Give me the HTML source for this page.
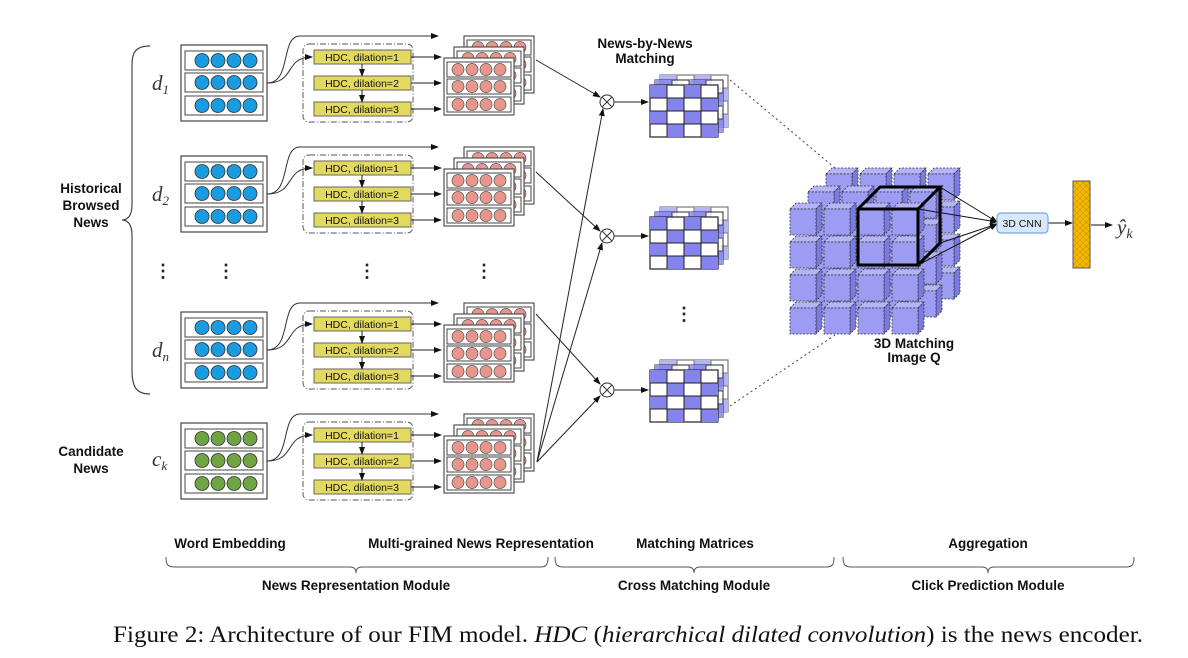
<!DOCTYPE html>
<html><head><meta charset="utf-8"><style>
html,body{margin:0;padding:0;background:#fff;}
svg{display:block;}
.b{font-family:"Liberation Sans",sans-serif;font-weight:bold;font-size:13.5px;fill:#111;}
.h{font-family:"Liberation Sans",sans-serif;font-size:10.5px;fill:#111;}
.m{font-family:"Liberation Serif",serif;font-style:italic;font-size:21px;fill:#333;}
</style></head><body>
<svg width="1188" height="658" viewBox="0 0 1188 658" xmlns="http://www.w3.org/2000/svg">
<defs>
<marker id="ar" markerWidth="8" markerHeight="8" refX="7" refY="4" orient="auto" markerUnits="userSpaceOnUse"><path d="M0,1 L8,4 L0,7 Z" fill="#111"/></marker>
<g id="embB">
<rect x="0" y="0" width="86" height="76" fill="#fff" stroke="#444" stroke-width="1.2"/>
<rect x="4" y="6" width="78" height="19" fill="#fff" stroke="#444"/>
<rect x="4" y="28" width="78" height="19" fill="#fff" stroke="#444"/>
<rect x="4" y="51" width="78" height="19" fill="#fff" stroke="#444"/>
<g fill="#1b9be0" stroke="#333" stroke-width="0.8">
<circle cx="21" cy="15.5" r="7"/><circle cx="37" cy="15.5" r="7"/><circle cx="53" cy="15.5" r="7"/><circle cx="69" cy="15.5" r="7"/>
<circle cx="21" cy="37.5" r="7"/><circle cx="37" cy="37.5" r="7"/><circle cx="53" cy="37.5" r="7"/><circle cx="69" cy="37.5" r="7"/>
<circle cx="21" cy="60.5" r="7"/><circle cx="37" cy="60.5" r="7"/><circle cx="53" cy="60.5" r="7"/><circle cx="69" cy="60.5" r="7"/>
</g></g>
<g id="embG">
<rect x="0" y="0" width="86" height="76" fill="#fff" stroke="#444" stroke-width="1.2"/>
<rect x="4" y="6" width="78" height="19" fill="#fff" stroke="#444"/>
<rect x="4" y="28" width="78" height="19" fill="#fff" stroke="#444"/>
<rect x="4" y="51" width="78" height="19" fill="#fff" stroke="#444"/>
<g fill="#6fa444" stroke="#333" stroke-width="0.8">
<circle cx="21" cy="15.5" r="7"/><circle cx="37" cy="15.5" r="7"/><circle cx="53" cy="15.5" r="7"/><circle cx="69" cy="15.5" r="7"/>
<circle cx="21" cy="37.5" r="7"/><circle cx="37" cy="37.5" r="7"/><circle cx="53" cy="37.5" r="7"/><circle cx="69" cy="37.5" r="7"/>
<circle cx="21" cy="60.5" r="7"/><circle cx="37" cy="60.5" r="7"/><circle cx="53" cy="60.5" r="7"/><circle cx="69" cy="60.5" r="7"/>
</g></g>
<g id="card">
<rect x="0" y="0" width="70" height="57" fill="#fff" stroke="#444" stroke-width="1.1"/>
<rect x="3" y="4" width="64" height="15" fill="#fff" stroke="#444"/>
<rect x="3" y="21" width="64" height="15" fill="#fff" stroke="#444"/>
<rect x="3" y="39" width="64" height="15" fill="#fff" stroke="#444"/>
<g fill="#e8968c" stroke="#555" stroke-width="0.7">
<circle cx="14" cy="11.5" r="6"/><circle cx="28" cy="11.5" r="6"/><circle cx="42" cy="11.5" r="6"/><circle cx="56" cy="11.5" r="6"/>
<circle cx="14" cy="28.5" r="6"/><circle cx="28" cy="28.5" r="6"/><circle cx="42" cy="28.5" r="6"/><circle cx="56" cy="28.5" r="6"/>
<circle cx="14" cy="46.5" r="6"/><circle cx="28" cy="46.5" r="6"/><circle cx="42" cy="46.5" r="6"/><circle cx="56" cy="46.5" r="6"/>
</g></g>
<g id="grpS">
<path d="M267,83 C292,83 280,36 300,36 L438,36" fill="none" stroke="#333" stroke-width="1" marker-end="url(#ar)"/>
<path d="M267,83 C296,83 284,57 312,57" fill="none" stroke="#333" stroke-width="1" marker-end="url(#ar)"/>
<rect x="303" y="44" width="110" height="78" rx="6" fill="none" stroke="#555" stroke-width="1" stroke-dasharray="6,2,1,2"/>
<g fill="#e2d95e" stroke="#666" stroke-width="1">
<rect x="314" y="50" width="97" height="14"/><rect x="314" y="76" width="97" height="14"/><rect x="314" y="102" width="97" height="14"/>
</g>
<g stroke="#222" stroke-width="1" marker-end="url(#ar)">
<line x1="362" y1="64" x2="362" y2="76"/><line x1="362" y1="90" x2="362" y2="102"/>
<line x1="411" y1="57" x2="441" y2="57"/><line x1="411" y1="83" x2="441" y2="83"/><line x1="411" y1="109" x2="441" y2="109"/>
</g>
<use href="#card" x="464" y="36"/><use href="#card" x="454" y="47"/><use href="#card" x="444" y="58"/>
</g>
<g id="mat">
<rect x="0" y="0" width="68" height="52" fill="#fff" stroke="#222" stroke-width="1.2"/>
<g fill="#8484ec">
<rect x="0" y="0" width="17" height="13"/><rect x="34" y="0" width="17" height="13"/>
<rect x="17" y="13" width="17" height="13"/><rect x="51" y="13" width="17" height="13"/>
<rect x="0" y="26" width="17" height="13"/><rect x="34" y="26" width="17" height="13"/>
<rect x="17" y="39" width="17" height="13"/><rect x="51" y="39" width="17" height="13"/>
</g>
<g stroke="#222" stroke-width="1"><line x1="17" y1="0" x2="17" y2="52"/><line x1="34" y1="0" x2="34" y2="52"/><line x1="51" y1="0" x2="51" y2="52"/>
<line x1="0" y1="13" x2="68" y2="13"/><line x1="0" y1="26" x2="68" y2="26"/><line x1="0" y1="39" x2="68" y2="39"/></g>
</g>
<g id="mats"><use href="#mat" x="10" y="-10" opacity="0.6"/><use href="#mat" x="5" y="-5" opacity="0.8"/><use href="#mat" x="0" y="0"/></g>
<g id="cube" stroke="#333" stroke-width="0.8" stroke-dasharray="2,1.5">
<path d="M0,6 L6,0 L32,0 L26,6 Z" fill="#b4b4f6"/>
<path d="M26,6 L32,0 L32,26 L26,32 Z" fill="#7a7ae0"/>
<rect x="0" y="6" width="26" height="26" fill="#9c9cf2"/>
</g>
<g id="row"><use href="#cube" x="0"/><use href="#cube" x="34"/><use href="#cube" x="68"/><use href="#cube" x="102"/></g>
<g id="layer"><use href="#row" y="0"/><use href="#row" y="33"/><use href="#row" y="66"/><use href="#row" y="99"/></g>
</defs>

<path d="M150,46 C132,46 132,56 132,70 L132,205 C132,215 128,220 122,220 C128,220 132,225 132,235 L132,370 C132,385 135,394 150,394" fill="none" stroke="#444" stroke-width="1.2"/>
<text class="b" x="91" y="193" text-anchor="middle">Historical</text>
<text class="b" x="91" y="210" text-anchor="middle">Browsed</text>
<text class="b" x="91" y="227" text-anchor="middle">News</text>
<text class="b" x="91" y="456" text-anchor="middle">Candidate</text>
<text class="b" x="91" y="473" text-anchor="middle">News</text>

<text class="m" x="152" y="90">d<tspan font-size="13" dy="4">1</tspan></text>
<text class="m" x="152" y="201">d<tspan font-size="13" dy="4">2</tspan></text>
<text class="m" x="152" y="357">d<tspan font-size="13" dy="4">n</tspan></text>
<text class="m" x="152" y="466">c<tspan font-size="13" dy="4">k</tspan></text>

<use href="#embB" x="181" y="45"/><use href="#grpS" y="0"/>
<use href="#embB" x="181" y="156"/><use href="#grpS" y="111"/>
<use href="#embB" x="181" y="312"/><use href="#grpS" y="267"/>
<use href="#embG" x="181" y="423"/><use href="#grpS" y="378"/>
<g class="h" text-anchor="middle">
<text x="362" y="61">HDC, dilation=1</text><text x="362" y="87">HDC, dilation=2</text><text x="362" y="113">HDC, dilation=3</text>
<text x="362" y="172">HDC, dilation=1</text><text x="362" y="198">HDC, dilation=2</text><text x="362" y="224">HDC, dilation=3</text>
<text x="362" y="328">HDC, dilation=1</text><text x="362" y="354">HDC, dilation=2</text><text x="362" y="380">HDC, dilation=3</text>
<text x="362" y="439">HDC, dilation=1</text><text x="362" y="465">HDC, dilation=2</text><text x="362" y="491">HDC, dilation=3</text>
</g>
<g font-family="Liberation Sans,sans-serif" font-weight="bold" font-size="18" fill="#222" text-anchor="middle">
<text x="163" y="277">⋮</text><text x="226" y="277">⋮</text><text x="367" y="277">⋮</text><text x="484" y="277">⋮</text><text x="684" y="320">⋮</text>
</g>

<g stroke="#222" stroke-width="1" fill="none" marker-end="url(#ar)">
<line x1="536" y1="60" x2="600" y2="97"/>
<line x1="536" y1="172" x2="600" y2="231"/>
<line x1="536" y1="314" x2="600" y2="384"/>
<line x1="537" y1="462" x2="603" y2="109"/>
<line x1="537" y1="462" x2="602" y2="243"/>
<line x1="537" y1="462" x2="600" y2="396"/>
<line x1="614" y1="102" x2="648" y2="102"/>
<line x1="614" y1="236" x2="648" y2="236"/>
<line x1="614" y1="390" x2="648" y2="390"/>
</g>
<g fill="#fff" stroke="#333" stroke-width="1">
<circle cx="607" cy="102" r="7"/><circle cx="607" cy="236" r="7"/><circle cx="607" cy="390" r="7"/>
</g>
<g stroke="#333" stroke-width="1">
<path d="M602,97 L612,107 M612,97 L602,107"/><path d="M602,231 L612,241 M612,231 L602,241"/><path d="M602,385 L612,395 M612,385 L602,395"/>
</g>
<text class="b" x="645" y="48" text-anchor="middle" font-size="12.5">News-by-News</text>
<text class="b" x="645" y="63" text-anchor="middle" font-size="12.5">Matching</text>

<use href="#mats" x="650" y="85"/>
<use href="#mats" x="650" y="217"/>
<use href="#mats" x="650" y="370"/>

<g stroke="#444" stroke-width="1" stroke-dasharray="2,3"><line x1="730" y1="80" x2="835" y2="168"/><line x1="730" y1="406" x2="835" y2="335"/></g>

<use href="#layer" x="826" y="168"/>
<use href="#layer" x="808" y="186"/>
<use href="#layer" x="790" y="203"/>
<g fill="none" stroke="#000" stroke-width="3">
<rect x="858" y="209" width="60" height="56"/>
<path d="M858,209 L880,187 L940,187 L918,209 M940,187 L940,243 L918,265"/>
</g>
<g stroke="#111" stroke-width="1" marker-end="url(#ar)">
<line x1="940" y1="187" x2="997" y2="222"/><line x1="918" y1="209" x2="997" y2="222"/>
<line x1="940" y1="243" x2="997" y2="224"/><line x1="918" y1="265" x2="997" y2="224"/>
<line x1="1048" y1="223" x2="1072" y2="223"/><line x1="1091" y1="225" x2="1112" y2="225"/>
</g>
<text class="b" x="914" y="348" text-anchor="middle" font-size="12.5">3D Matching</text>
<text class="b" x="914" y="362" text-anchor="middle" font-size="12.5">Image Q</text>
<rect x="997" y="213" width="51" height="20" rx="4" fill="#d8e8fb" stroke="#7aa6d8" stroke-width="1.2"/>
<text x="1022" y="227" text-anchor="middle" font-family="Liberation Sans,sans-serif" font-size="10.5" fill="#111">3D CNN</text>
<defs><pattern id="hatch" width="6" height="6" patternUnits="userSpaceOnUse"><rect width="6" height="6" fill="#f5b800"/><path d="M0,0 L6,6 M6,0 L0,6" stroke="#c89500" stroke-width="0.6"/></pattern></defs>
<rect x="1073" y="181" width="17" height="87" fill="url(#hatch)" stroke="#555"/>
<text class="m" x="1117" y="234">ŷ<tspan font-size="14" dy="4">k</tspan></text>

<text class="b" x="230" y="548" text-anchor="middle">Word Embedding</text>
<text class="b" x="481" y="548" text-anchor="middle">Multi-grained News Representation</text>
<text class="b" x="695" y="548" text-anchor="middle">Matching Matrices</text>
<text class="b" x="988" y="548" text-anchor="middle">Aggregation</text>
<g fill="none" stroke="#555" stroke-width="1">
<path d="M166,557 C166,565 168,567 175,567 L350,567 C354,567 356,569 356,573 C356,569 358,567 362,567 L540,567 C546,567 548,565 548,557"/>
<path d="M555,557 C555,565 557,567 564,567 L688,567 C692,567 694,569 694,573 C694,569 696,567 700,567 L826,567 C832,567 834,565 834,557"/>
<path d="M843,557 C843,565 845,567 852,567 L982,567 C986,567 988,569 988,573 C988,569 990,567 994,567 L1126,567 C1132,567 1134,565 1134,557"/>
</g>
<text class="b" x="356" y="590" text-anchor="middle">News Representation Module</text>
<text class="b" x="694" y="590" text-anchor="middle">Cross Matching Module</text>
<text class="b" x="988" y="590" text-anchor="middle">Click Prediction Module</text>
<text x="628" y="642" text-anchor="middle" textLength="1030" lengthAdjust="spacingAndGlyphs" font-family="Liberation Serif,serif" font-size="23" fill="#111">Figure 2: Architecture of our FIM model. <tspan font-style="italic">HDC</tspan> (<tspan font-style="italic">hierarchical dilated convolution</tspan>) is the news encoder.</text>
</svg>
</body></html>
